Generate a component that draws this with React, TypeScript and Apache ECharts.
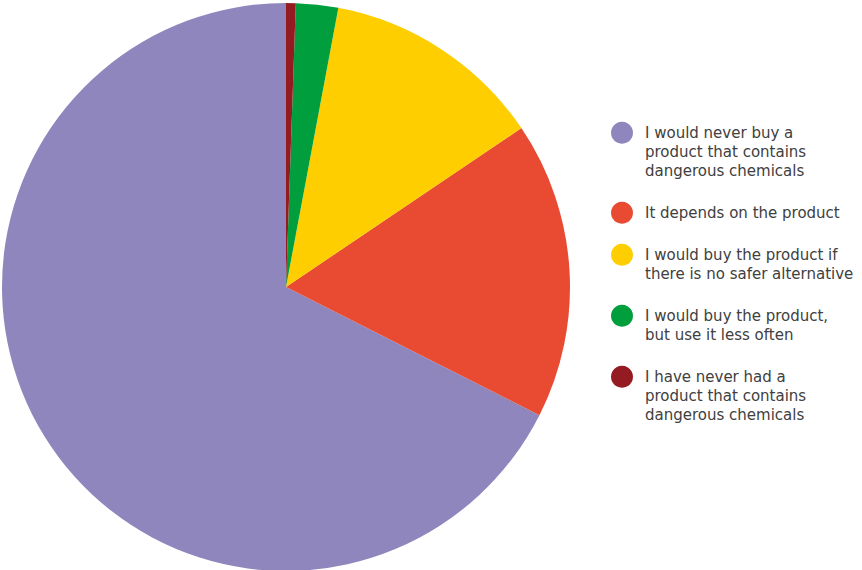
import React, { useEffect, useRef } from "react";
import * as echarts from "echarts";

const categories = [
  "I would never buy a\nproduct that contains\ndangerous chemicals",
  "It depends on the product",
  "I would buy the product if\nthere is no safer alternative",
  "I would buy the product,\nbut use it less often",
  "I have never had a\nproduct that contains\ndangerous chemicals",
];
const values = [67.55, 16.9, 12.6, 2.4, 0.55];
const colors = ["#8F86BD", "#E84B32", "#FFCE00", "#009E3D", "#951B23"];

export default function App() {
  const ref = useRef<HTMLDivElement>(null);
  useEffect(() => {
    if (!ref.current) return;
    const chart = echarts.init(ref.current, undefined, { renderer: "svg" });
    const lineH = 19;
    const graphics: any[] = [];
    let y = 132.7;
    categories.forEach((name, i) => {
      const lines = name.split("\n").length;
      graphics.push({
        type: "circle",
        shape: { cx: 622, cy: y, r: 11 },
        style: { fill: colors[i] },
      });
      graphics.push({
        type: "text",
        x: 645,
        y: y - lineH / 2,
        style: {
          text: name,
          fill: "#404040",
          font: "15px 'DejaVu Sans'",
          lineHeight: lineH,
          verticalAlign: "top",
          align: "left",
        },
      });
      y += lines * lineH + 23;
    });
    chart.setOption({
      animation: false,
      series: [
        {
          type: "pie",
          center: [286, 287],
          radius: 284,
          startAngle: 90,
          clockwise: false,
          label: { show: false },
          labelLine: { show: false },
          data: categories.map((c, i) => ({
            name: c,
            value: values[i],
            itemStyle: { color: colors[i] },
          })),
        },
      ],
      graphic: graphics,
    });
    return () => chart.dispose();
  }, []);
  return (
    <div
      ref={ref}
      style={{ position: "absolute", left: 0, top: 0, width: 862, height: 570 }}
    />
  );
}
